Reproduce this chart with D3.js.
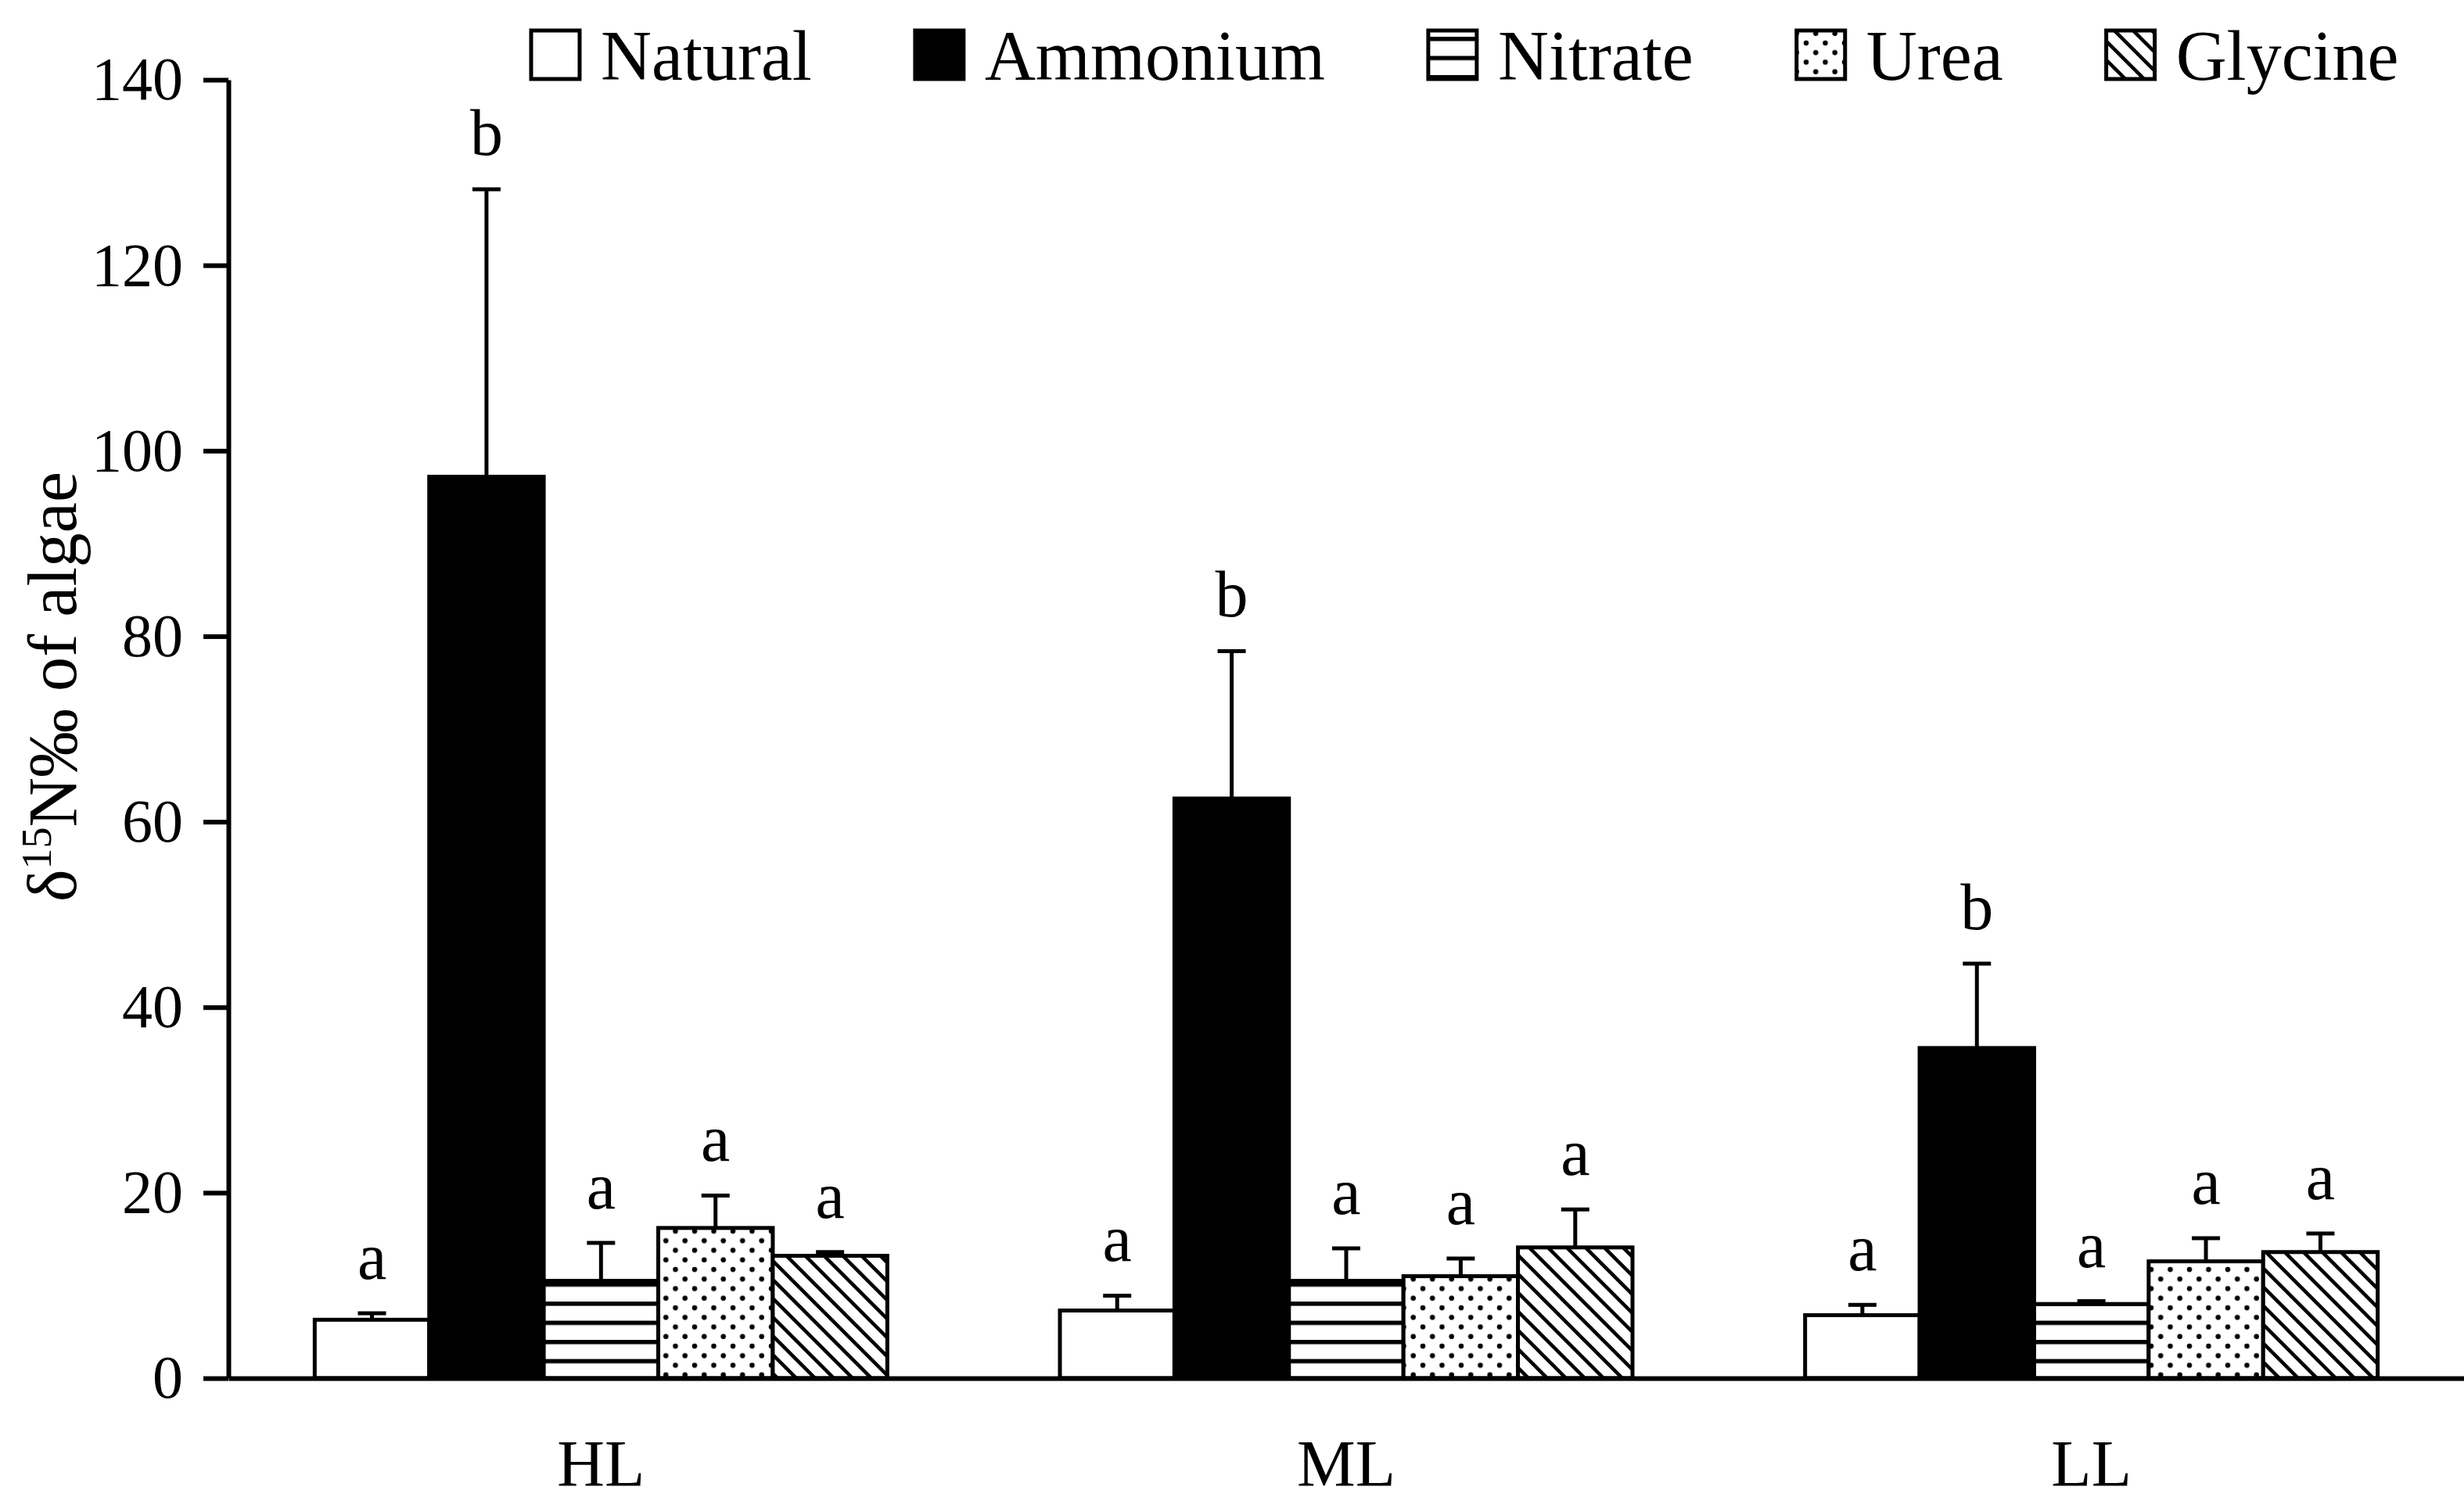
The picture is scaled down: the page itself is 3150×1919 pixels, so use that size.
<!DOCTYPE html>
<html>
<head>
<meta charset="utf-8">
<script src="https://cdn.jsdelivr.net/npm/d3@7"></script>
<style>
  body { margin: 0; background: #fff; }
  svg { display: block; }
</style>
</head>
<body>
<div id="chart"></div>
<script>
// δ15N of algae under different N sources, three light levels
const groups = ["HL", "ML", "LL"];
const series = ["Natural", "Ammonium", "Nitrate", "Urea", "Glycine"];

// means and (upper) error bars, one value per light level
const meanNatural  = [6.3, 7.3, 6.8];
const errNatural   = [0.7, 1.6, 1.1];
const meanAmmonium = [97.2, 62.5, 35.6];
const errAmmonium  = [31.0, 15.9, 9.1];
const meanNitrate  = [10.5, 10.5, 8.0];
const errNitrate   = [4.1, 3.5, 0.3];
const meanUrea     = [16.2, 11.0, 12.6];
const errUrea      = [3.5, 1.9, 2.5];
const meanGlycine  = [13.2, 14.1, 13.6];
const errGlycine   = [0.4, 4.1, 2.0];

// significance letters
const lettersNatural  = ["a", "a", "a"];
const lettersAmmonium = ["b", "b", "b"];
const lettersNitrate  = ["a", "a", "a"];
const lettersUrea     = ["a", "a", "a"];
const lettersGlycine  = ["a", "a", "a"];

const yTicks = [0, 20, 40, 60, 80, 100, 120, 140];

const means = [meanNatural, meanAmmonium, meanNitrate, meanUrea, meanGlycine];
const errs = [errNatural, errAmmonium, errNitrate, errUrea, errGlycine];
const letters = [lettersNatural, lettersAmmonium, lettersNitrate, lettersUrea, lettersGlycine];

const rows = [];
groups.forEach((g, gi) => {
  series.forEach((s, si) => {
    rows.push({ group: g, series: s, value: means[si][gi], err: errs[si][gi], letter: letters[si][gi] });
  });
});

const width = 3150, height = 1919;
const font = "'Liberation Serif', 'Times New Roman', serif";

const svg = d3.select("#chart")
  .append("svg")
  .attr("width", width)
  .attr("height", height)
  .attr("viewBox", [0, 0, width, height]);

svg.append("rect").attr("width", width).attr("height", height).attr("fill", "#fff");

// Fill patterns
const defs = svg.append("defs");

const hl = defs.append("pattern")
  .attr("id", "hlines")
  .attr("patternUnits", "userSpaceOnUse")
  .attr("width", 20).attr("height", 24.5)
  .attr("y", 1762 % 24.5);
hl.append("rect").attr("width", 20).attr("height", 24.5).attr("fill", "#fff");
hl.append("rect").attr("y", 0).attr("width", 20).attr("height", 5.5).attr("fill", "#000");

const dots = defs.append("pattern")
  .attr("id", "dots")
  .attr("patternUnits", "userSpaceOnUse")
  .attr("width", 24.5).attr("height", 24.5);
dots.append("rect").attr("width", 24.5).attr("height", 24.5).attr("fill", "#fff");
dots.append("circle").attr("cx", 6).attr("cy", 6).attr("r", 3.3).attr("fill", "#000");
dots.append("circle").attr("cx", 18.25).attr("cy", 18.25).attr("r", 3.3).attr("fill", "#000");

const diag = defs.append("pattern")
  .attr("id", "diag")
  .attr("patternUnits", "userSpaceOnUse")
  .attr("width", 24).attr("height", 24);
diag.append("rect").attr("width", 24).attr("height", 24).attr("fill", "#fff");
diag.append("path")
  .attr("d", "M-3,-3L27,27M-3,21L3,27M21,-3L27,3")
  .attr("stroke", "#000")
  .attr("stroke-width", 4.5);

const fills = {
  Natural: "#fff",
  Ammonium: "#000",
  Nitrate: "url(#hlines)",
  Urea: "url(#dots)",
  Glycine: "url(#diag)"
};

// Scales
const y = d3.scaleLinear().domain([0, 140]).range([1762, 102]);
const x0 = d3.scaleBand().domain(groups).range([292, width]);
const groupWidth = 732;
const x1 = d3.scaleBand().domain(series).range([0, groupWidth]);
const groupLeft = g => x0(g) + (x0.bandwidth() - groupWidth) / 2;

// Bars
svg.append("g")
  .selectAll("rect")
  .data(rows)
  .join("rect")
    .attr("x", d => groupLeft(d.group) + x1(d.series))
    .attr("y", d => y(d.value))
    .attr("width", x1.bandwidth())
    .attr("height", d => y(0) - y(d.value))
    .attr("fill", d => fills[d.series])
    .attr("stroke", "#000")
    .attr("stroke-width", 5);

// Error bars (upper only)
const eb = svg.append("g").attr("stroke", "#000").attr("stroke-width", 5);
eb.selectAll("line.v")
  .data(rows)
  .join("line")
    .attr("class", "v")
    .attr("x1", d => groupLeft(d.group) + x1(d.series) + x1.bandwidth() / 2)
    .attr("x2", d => groupLeft(d.group) + x1(d.series) + x1.bandwidth() / 2)
    .attr("y1", d => y(d.value))
    .attr("y2", d => y(d.value + d.err));
eb.selectAll("line.cap")
  .data(rows)
  .join("line")
    .attr("class", "cap")
    .attr("x1", d => groupLeft(d.group) + x1(d.series) + x1.bandwidth() / 2 - 18)
    .attr("x2", d => groupLeft(d.group) + x1(d.series) + x1.bandwidth() / 2 + 18)
    .attr("y1", d => y(d.value + d.err))
    .attr("y2", d => y(d.value + d.err));

// Significance letters
svg.append("g")
  .selectAll("text")
  .data(rows)
  .join("text")
    .attr("x", d => groupLeft(d.group) + x1(d.series) + x1.bandwidth() / 2)
    .attr("y", d => y(d.value + d.err) - 44)
    .attr("text-anchor", "middle")
    .attr("font-family", font)
    .attr("font-size", 84)
    .text(d => d.letter);

// Y axis
const yAxis = svg.append("g")
  .attr("transform", "translate(292,0)")
  .call(d3.axisLeft(y).tickValues(yTicks).tickSize(32).tickSizeOuter(0).tickPadding(26));
yAxis.select(".domain").attr("stroke-width", 6);
yAxis.selectAll(".tick line").attr("stroke-width", 6);
yAxis.selectAll(".tick text")
  .attr("font-family", font)
  .attr("font-size", 78)
  .attr("fill", "#000");

// X axis
const xAxis = svg.append("g")
  .attr("transform", `translate(0,${y(0)})`)
  .call(d3.axisBottom(x0).tickSize(0).tickSizeOuter(0).tickPadding(78));
xAxis.select(".domain").attr("stroke-width", 6);
xAxis.selectAll(".tick text")
  .attr("font-family", font)
  .attr("font-size", 84)
  .attr("fill", "#000");

// Y axis title
const yTitle = svg.append("text")
  .attr("transform", "translate(97,878) rotate(-90)")
  .attr("text-anchor", "middle")
  .attr("font-family", font)
  .attr("font-size", 88)
  .attr("fill", "#000");
yTitle.append("tspan").text("δ");
yTitle.append("tspan").attr("font-size", 54).attr("dy", -32).text("15");
yTitle.append("tspan").attr("dy", 32).text("N‰ of algae");

// Legend
const legend = svg.append("g").attr("font-family", font).attr("font-size", 90);
let lx = 679;
series.forEach(s => {
  legend.append("rect")
    .attr("x", lx).attr("y", 39)
    .attr("width", 62).attr("height", 62)
    .attr("fill", fills[s])
    .attr("stroke", "#000")
    .attr("stroke-width", 5);
  const t = legend.append("text")
    .attr("x", lx + 89).attr("y", 102)
    .attr("fill", "#000")
    .text(s);
  lx += 89 + t.node().getComputedTextLength() + 132;
});
</script>
</body>
</html>
